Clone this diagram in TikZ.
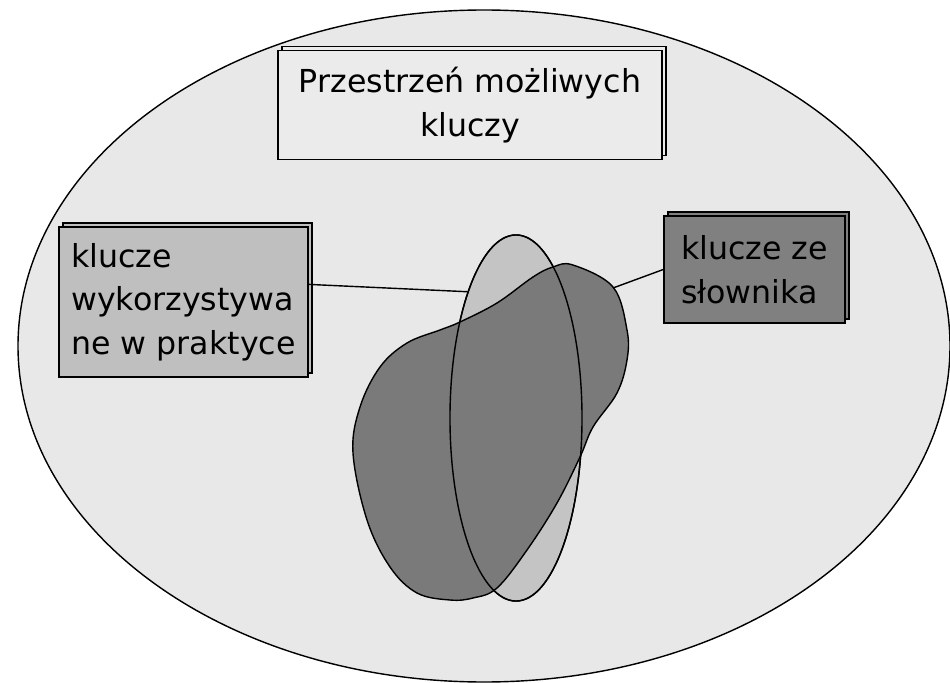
\documentclass[tikz,border=0pt]{standalone}
\usepackage{fontspec}
\setmainfont{DejaVu Sans}
\usetikzlibrary{shapes.geometric,shadows}

\begin{document}
\begin{tikzpicture}[x=0.025cm,y=-0.025cm,
  outline/.style={line width=1pt},
  keybox/.style={draw,outline,inner sep=0pt,font=\fontsize{22.5}{31}\selectfont,
    copy shadow={shadow xshift=0.1cm,shadow yshift=0.1cm}}]
\useasboundingbox (0,0) rectangle (950,683);
\draw[outline,fill=black!9] (484,346) ellipse [x radius=466,y radius=336];
\node[keybox,fill=black!8,align=center,minimum width=9.6cm,minimum height=2.725cm] (space) at (470,105) {Przestrzeń możliwych\\kluczy};
\node[keybox,fill=black!25,align=left,minimum width=6.225cm,minimum height=3.75cm] (usedkeys) at (183.5,302) {klucze\\wykorzystywa\\ne w praktyce};
\node[keybox,fill=black!50,align=left,minimum width=4.525cm,minimum height=2.675cm] (dictkeys) at (754.5,269.5) {klucze ze\\słownika};
\node[ellipse,draw,outline,fill=black!23,minimum width=3.3cm,minimum height=9.15cm,inner sep=0pt] (lite) at (516,418) {};
\draw[outline,fill=black!52] plot[smooth cycle,tension=0.6] coordinates {(553,267) (573,265) (613,287) (627,330) (627,360) (617,393) (593,427) (580,457) (557,503) (527,550) (497,588) (473,598) (450,600) (417,593) (390,567) (367,520) (353,453) (360,407) (380,367) (407,343) (440,330) (460,322) (497,303) (533,277)};
\node[ellipse,draw,outline,minimum width=3.3cm,minimum height=9.15cm,inner sep=0pt] at (lite.center) {};
\coordinate (blobtip) at (613,288);
\draw[outline] (usedkeys.8) -- (lite.111);
\draw[outline] (dictkeys.west) -- (blobtip);
\end{tikzpicture}
\end{document}
